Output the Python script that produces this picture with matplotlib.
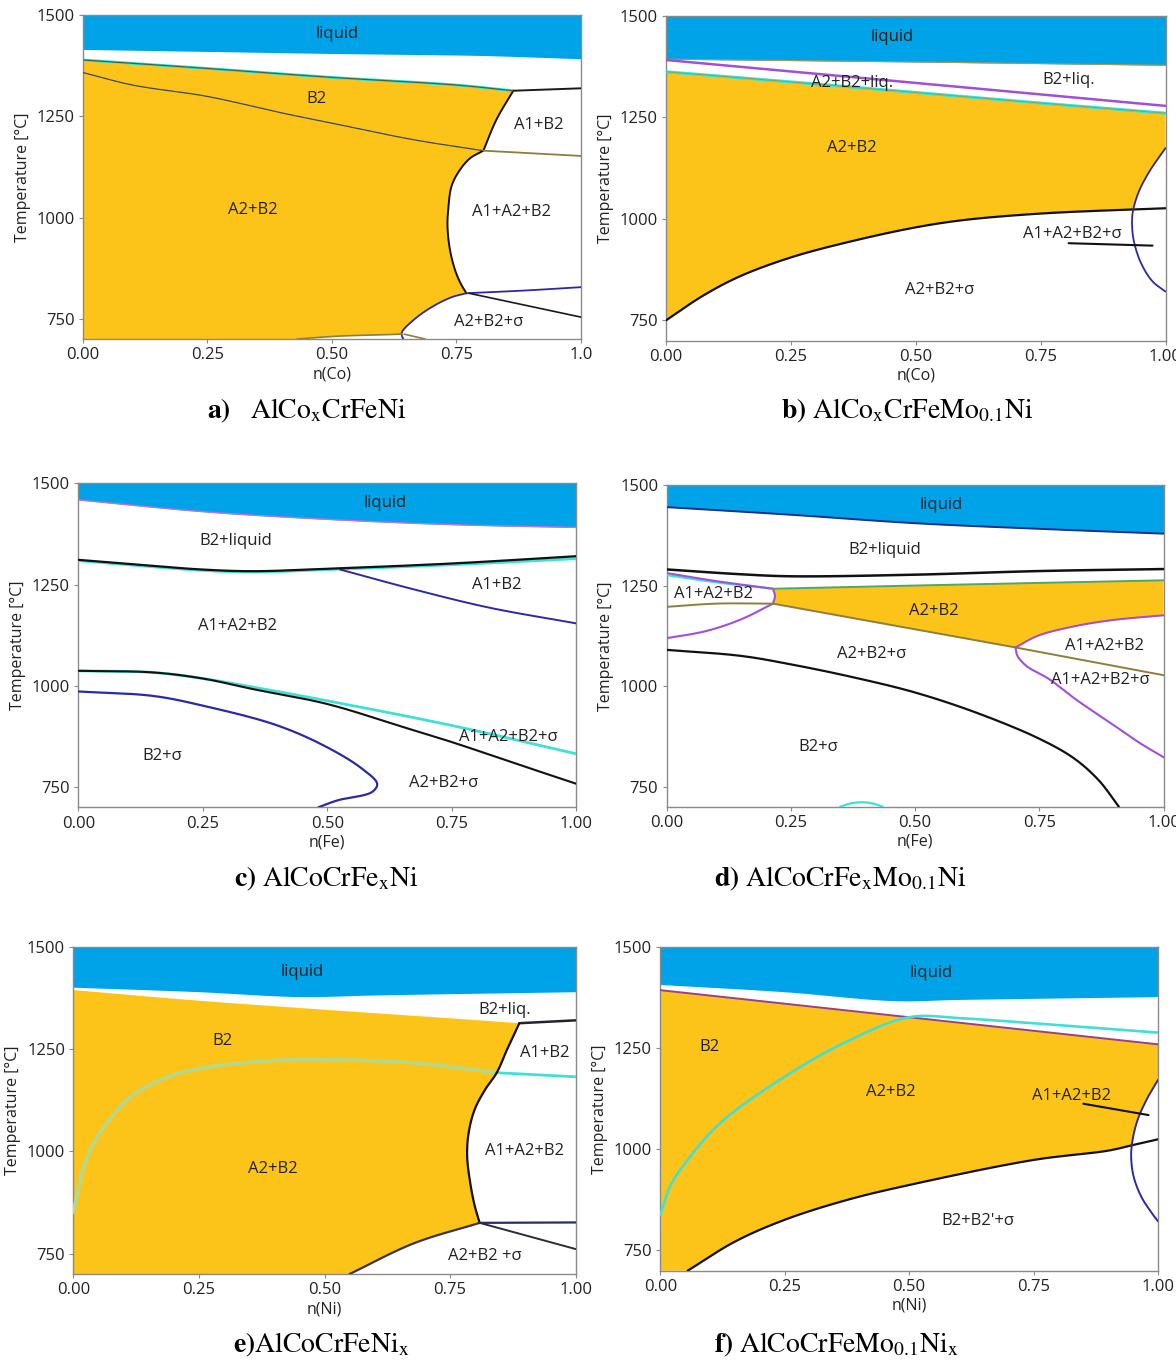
import numpy as np
import matplotlib
matplotlib.use("Agg")
import matplotlib.pyplot as plt

plt.rcParams["font.family"] = ["Open Sans", "DejaVu Sans"]
plt.rcParams["mathtext.fontset"] = "stix"

W, H = 1176, 1360

LIQ = "#00A3E8"
ORG = "#FCC419"
CYAN = "#3FE0D6"
PURPLE = "#A24FD8"
BLUE = "#2A2AA8"
OLIVE = "#8F7D3A"
GREEN = "#4FA866"
TXT = "#222222"

# ---------------- a) AlCoxCrFeNi ----------------
a_liq_x = [0.0, 0.25, 0.5, 0.63, 0.8, 1.0]
a_liq_T = [1415, 1410, 1405, 1403, 1400, 1392]
a_top_x = [0.0, 0.25, 0.5, 0.75, 0.864]
a_top_T = [1389, 1368, 1346, 1327, 1313]
a_topr_x = [0.864, 1.0]
a_topr_T = [1313, 1319]
a_rup_x = [0.864, 0.830, 0.804]
a_rup_T = [1313, 1241, 1165]
a_rlo_x = [0.804, 0.777, 0.755, 0.740, 0.734, 0.732, 0.737, 0.747, 0.758, 0.770]
a_rlo_T = [1165, 1146, 1114, 1077, 1027, 978, 920, 871, 838, 813]
a_sig_x = [0.770, 0.740, 0.702, 0.664, 0.640, 0.643]
a_sig_T = [813, 803, 780, 747, 715, 700]
a_bot_x = [0.430, 0.513, 0.634, 0.641]
a_bot_T = [700, 707, 712, 713]
a_bot2_x = [0.645, 0.687]
a_bot2_T = [712, 700]
a_inner_x = [0.0, 0.1, 0.25, 0.4, 0.5, 0.664, 0.804]
a_inner_T = [1358, 1327, 1299, 1258, 1233, 1192, 1165]
a_olr_x = [0.804, 1.0]
a_olr_T = [1165, 1152]
a_blr_x = [0.770, 0.891, 1.0]
a_blr_T = [813, 820, 828]
a_bkr_x = [0.775, 1.0]
a_bkr_T = [813, 754]
a_labels = [("liquid", 0.51, 1452), ("B2", 0.468, 1292), ("A1+B2", 0.915, 1229),
            ("A2+B2", 0.341, 1019), ("A1+A2+B2", 0.860, 1014), ("A2+B2+σ", 0.815, 741)]

# ---------------- b) AlCoxCrFeMo0.1Ni ----------------
b_liq_x = [0.0, 0.5, 1.0]
b_liq_T = [1393, 1386, 1378]
b_pur_x = [0.0, 1.0]
b_pur_T = [1391, 1278]
b_cyan_x = [0.0, 0.25, 0.5, 0.75, 1.0]
b_cyan_T = [1362, 1337, 1311, 1285, 1260]
b_blk_x = [0.0, 0.073, 0.147, 0.25, 0.372, 0.5, 0.596, 0.75, 0.933, 1.0]
b_blk_T = [750, 810, 858, 905, 945, 979, 997, 1013, 1023, 1026]
b_arc_x = [1.0, 0.970, 0.948, 0.936, 0.933, 0.936, 0.951, 0.974, 1.0]
b_arc_T = [1174, 1121, 1071, 1026, 998, 949, 891, 846, 821]
b_ptr_x = [0.806, 0.974]
b_ptr_T = [940, 934]
b_labels = [("liquid", 0.452, 1448), ("B2+liq.", 0.807, 1342), ("A2+B2+liq.", 0.372, 1334),
            ("A2+B2", 0.372, 1174), ("A1+A2+B2+σ", 0.813, 963), ("A2+B2+σ", 0.547, 824)]

# ---------------- c) AlCoCrFexNi ----------------
c_liq_x = [0.0, 0.25, 0.5, 0.75, 1.0]
c_liq_T = [1459, 1430, 1411, 1398, 1391]
c_bt_x = [0.0, 0.15, 0.25, 0.35, 0.5, 0.75, 1.0]
c_bt_T = [1311, 1296, 1287, 1283, 1289, 1302, 1320]
c_ct_x = [0.0, 0.25, 0.35, 0.5, 0.75, 1.0]
c_ct_T = [1309, 1285, 1281, 1287, 1299, 1314]
c_ba_x = [0.526, 0.674, 0.825, 1.0]
c_ba_T = [1287, 1238, 1193, 1154]
c_bm_x = [0.0, 0.15, 0.25, 0.35, 0.5, 0.65, 0.75, 0.9, 1.0]
c_bm_T = [1037, 1033, 1018, 992, 955, 899, 861, 799, 758]
c_cm_x = [0.0, 0.15, 0.25, 0.35, 0.5, 0.75, 1.0]
c_cm_T = [1037, 1033, 1018, 997, 963, 902, 832]
c_bs_x = [0.0, 0.15, 0.25, 0.4, 0.5, 0.57, 0.6, 0.59, 0.52, 0.482]
c_bs_T = [986, 975, 951, 902, 848, 795, 758, 738, 717, 700]
c_labels = [("liquid", 0.617, 1451), ("B2+liquid", 0.317, 1357), ("A1+B2", 0.841, 1248),
            ("A1+A2+B2", 0.319, 1148), ("A1+A2+B2+σ", 0.863, 873), ("B2+σ", 0.169, 826),
            ("A2+B2+σ", 0.734, 760)]

# ---------------- d) AlCoCrFexMo0.1Ni ----------------
d_liq_x = [0.0, 0.25, 0.5, 0.75, 1.0]
d_liq_T = [1445, 1426, 1405, 1391, 1379]
d_bt_x = [0.0, 0.15, 0.25, 0.5, 0.75, 1.0]
d_bt_T = [1290, 1278, 1273, 1277, 1286, 1291]
d_pa_x = [0.0, 0.1, 0.214]
d_pa_T = [1281, 1261, 1242]
d_ca_x = [0.0, 0.1, 0.214]
d_ca_T = [1276, 1258, 1242]
d_pv_x = [0.214, 0.218, 0.214]
d_pv_T = [1242, 1224, 1205]
d_pb_x = [0.214, 0.15, 0.08, 0.0]
d_pb_T = [1205, 1166, 1137, 1119]
d_oa_x = [0.0, 0.1, 0.214]
d_oa_T = [1197, 1205, 1205]
d_gt_x = [0.214, 0.5, 1.0]
d_gt_T = [1242, 1250, 1263]
d_ob_x = [0.214, 0.702, 1.0]
d_ob_T = [1205, 1096, 1027]
d_pu_x = [1.0, 0.897, 0.822, 0.747, 0.702]
d_pu_T = [1176, 1164, 1149, 1125, 1096]
d_pl_x = [0.702, 0.706, 0.724, 0.770, 0.822, 0.897, 0.950, 1.0]
d_pl_T = [1096, 1075, 1050, 1017, 968, 905, 860, 823]
d_bm_x = [0.0, 0.15, 0.25, 0.375, 0.5, 0.625, 0.75, 0.82, 0.87, 0.91]
d_bm_T = [1090, 1075, 1054, 1022, 984, 933, 869, 820, 765, 700]
d_cb_x = [0.349, 0.37, 0.393, 0.415, 0.435]
d_cb_T = [700, 708, 711, 708, 700]
d_labels = [("liquid", 0.552, 1450), ("B2+liquid", 0.439, 1339), ("A1+A2+B2", 0.094, 1228),
            ("A2+B2", 0.537, 1187), ("A2+B2+σ", 0.413, 1079), ("A1+A2+B2", 0.882, 1100),
            ("A1+A2+B2+σ", 0.873, 1016), ("B2+σ", 0.306, 848)]

# ---------------- e) AlCoCrFeNix ----------------
e_liq_x = [0.0, 0.25, 0.45, 0.6, 1.0]
e_liq_T = [1401, 1390, 1378, 1382, 1390]
e_top_x = [0.0, 0.25, 0.5, 0.75, 0.888]
e_top_T = [1394, 1368, 1346, 1325, 1313]
e_topr_x = [0.888, 1.0]
e_topr_T = [1313, 1320]
e_right_x = [0.888, 0.865, 0.843, 0.820, 0.799, 0.787, 0.784, 0.790, 0.799, 0.809]
e_right_T = [1313, 1253, 1192, 1151, 1102, 1045, 989, 924, 867, 825]
e_sig_x = [0.809, 0.678, 0.55]
e_sig_T = [825, 775, 700]
e_grn_x = [0.0, 0.02, 0.041, 0.08, 0.116, 0.18, 0.25, 0.4, 0.5, 0.678, 0.83, 0.843]
e_grn_T = [851, 960, 1021, 1090, 1135, 1178, 1202, 1222, 1224, 1216, 1194, 1192]
e_cyr_x = [0.843, 1.0]
e_cyr_T = [1192, 1182]
e_blr_x = [0.809, 1.0]
e_blr_T = [825, 826]
e_bkr_x = [0.809, 1.0]
e_bkr_T = [825, 761]
e_labels = [("liquid", 0.455, 1439), ("B2+liq.", 0.858, 1346), ("B2", 0.296, 1269),
            ("A1+B2", 0.939, 1239), ("A2+B2", 0.397, 956), ("A1+A2+B2", 0.899, 1001),
            ("A2+B2 +σ", 0.820, 745)]

# ---------------- f) AlCoCrFeMo0.1Nix ----------------
f_liq_x = [0.0, 0.25, 0.47, 0.6, 1.0]
f_liq_T = [1408, 1390, 1368, 1371, 1378]
f_pur_x = [0.0, 1.0]
f_pur_T = [1394, 1260]
f_cyan_x = [0.0, 0.02, 0.05, 0.12, 0.25, 0.375, 0.5, 0.61, 0.75, 1.0]
f_cyan_T = [838, 910, 966, 1065, 1180, 1267, 1327, 1324, 1312, 1289]
f_blk_x = [0.055, 0.15, 0.25, 0.375, 0.5, 0.75, 0.9, 0.95, 1.0]
f_blk_T = [700, 772, 826, 875, 912, 974, 997, 1011, 1025]
f_arc_x = [1.0, 0.977, 0.959, 0.949, 0.946, 0.951, 0.966, 0.985, 1.0]
f_arc_T = [1172, 1123, 1073, 1024, 983, 933, 884, 847, 822]
f_ptr_x = [0.85, 0.981]
f_ptr_T = [1113, 1085]
f_labels = [("liquid", 0.544, 1437), ("B2", 0.098, 1253), ("A2+B2", 0.463, 1141),
            ("A1+A2+B2", 0.826, 1133), ("B2+B2'+σ", 0.638, 822)]

x_ticks = [0.0, 0.25, 0.5, 0.75, 1.0]
y_ticks = [750, 1000, 1250, 1500]

fig = plt.figure(figsize=(W / 100, H / 100), dpi=100)

# axes are ~500 px wide and ~325 px tall for 800 degrees
SX, ST = 500.0, 325.0 / 800.0


def S(x, T, n=24):
    """Centripetal Catmull-Rom curve through the given boundary points (for drawing)."""
    P = np.column_stack([np.asarray(x, float) * SX, np.asarray(T, float) * ST])
    if len(P) < 3:
        return list(P[:, 0] / SX), list(P[:, 1] / ST)
    pts = np.vstack([2 * P[0] - P[1], P, 2 * P[-1] - P[-2]])
    out = []
    for i in range(1, len(pts) - 2):
        p0, p1, p2, p3 = pts[i - 1], pts[i], pts[i + 1], pts[i + 2]
        t0 = 0.0
        t1 = t0 + max(np.linalg.norm(p1 - p0), 1e-6) ** 0.5
        t2 = t1 + max(np.linalg.norm(p2 - p1), 1e-6) ** 0.5
        t3 = t2 + max(np.linalg.norm(p3 - p2), 1e-6) ** 0.5
        t = np.linspace(t1, t2, n, endpoint=False)[:, None]
        A1 = (t1 - t) / (t1 - t0) * p0 + (t - t0) / (t1 - t0) * p1
        A2 = (t2 - t) / (t2 - t1) * p1 + (t - t1) / (t2 - t1) * p2
        A3 = (t3 - t) / (t3 - t2) * p2 + (t - t2) / (t3 - t2) * p3
        B1 = (t2 - t) / (t2 - t0) * A1 + (t - t0) / (t2 - t0) * A2
        B2 = (t3 - t) / (t3 - t1) * A2 + (t - t1) / (t3 - t1) * A3
        C = (t2 - t) / (t2 - t1) * B1 + (t - t1) / (t2 - t1) * B2
        out.append(C)
    out.append(P[-1:])
    Q = np.vstack(out)
    return list(Q[:, 0] / SX), list(Q[:, 1] / ST)


def make_axes(l, r, t, b):
    return fig.add_axes([l / W, 1 - b / H, (r - l) / W, (b - t) / H])


def style(ax, xlabel, last_tick="1.00"):
    ax.set_xlim(0, 1)
    ax.set_ylim(700, 1500)
    ax.set_xticks(x_ticks)
    ax.set_xticklabels(["0.00", "0.25", "0.50", "0.75", last_tick])
    ax.set_yticks(y_ticks)
    for s in ax.spines.values():
        s.set_color("#8a8a8a")
        s.set_linewidth(1.0)
    ax.tick_params(length=3, width=0.8, color="#8a8a8a", labelsize=12,
                   labelcolor=TXT, pad=3)
    ax.set_ylabel("Temperature [°C]", fontsize=11.5, color=TXT, labelpad=4)
    ax.set_xlabel(xlabel, fontsize=11.5, color=TXT, labelpad=2)


def line(ax, x, T, color, lw=1.3, z=3):
    xs, Ts = S(x, T)
    ax.plot(xs, Ts, color=color, lw=lw, zorder=z, solid_capstyle="round")


def liquid(ax, x, T):
    xs, Ts = S(x, T)
    ax.fill_between(xs, Ts, 1500, color=LIQ, lw=0, zorder=1)


def labels(ax, items, size=12):
    for s, x, T in items:
        ax.text(x, T, s, ha="center", va="center", fontsize=size, color=TXT, zorder=6)


def cut_arc(arc_x, arc_T, bx, bT):
    """Upper part of an arc, down to where it meets the lower boundary curve."""
    axs, ats = S(arc_x, arc_T)
    bxs, bts = S(bx, bT)
    keep_x, keep_T = [], []
    for xv, tv in zip(axs, ats):
        if tv >= np.interp(xv, bxs, bts):
            keep_x.append(xv)
            keep_T.append(tv)
        else:
            break
    bxs = np.array(bxs)
    bts = np.array(bts)
    m = bxs <= keep_x[-1]
    return keep_x + list(bxs[m][::-1]), keep_T + list(bts[m][::-1])


def chain(*segs):
    xs, Ts = [], []
    for x, T in segs:
        xs += list(x)
        Ts += list(T)
    return xs, Ts


# ---- a ----
ax = make_axes(82.8, 581, 15, 339)
liquid(ax, a_liq_x, a_liq_T)
px, pT = chain(([0.0], [700]), S(a_top_x, a_top_T), S(a_rup_x, a_rup_T),
               S(a_rlo_x, a_rlo_T), S(a_sig_x[:-1], a_sig_T[:-1]),
               S(a_bot_x[::-1], a_bot_T[::-1]), ([0.0], [700]))
ax.fill(px, pT, color=ORG, lw=0, zorder=1)
line(ax, a_top_x, a_top_T, CYAN, lw=2.0)
line(ax, a_top_x, a_top_T, "#2f6b4f", lw=0.9, z=4)
line(ax, a_topr_x, a_topr_T, "#1a1a1a", lw=1.4)
line(ax, a_rup_x, a_rup_T, "#111111", lw=1.4)
line(ax, a_rlo_x, a_rlo_T, "#111111", lw=1.4)
line(ax, a_inner_x, a_inner_T, "#3a4858", lw=0.9)
line(ax, a_olr_x, a_olr_T, OLIVE, lw=1.3)
line(ax, a_sig_x, a_sig_T, BLUE, lw=1.3)
line(ax, a_bot_x, a_bot_T, OLIVE, lw=1.2)
line(ax, a_bot2_x, a_bot2_T, OLIVE, lw=1.2)
line(ax, a_blr_x, a_blr_T, BLUE, lw=1.3)
line(ax, a_bkr_x, a_bkr_T, "#1a1a1a", lw=1.2)
labels(ax, a_labels)
style(ax, "n(Co)", last_tick="1.0")

# ---- b ----
ax = make_axes(666, 1165.5, 15.7, 340.7)
liquid(ax, b_liq_x, b_liq_T)
px, pT = chain(S(b_cyan_x, b_cyan_T), cut_arc(b_arc_x, b_arc_T, b_blk_x, b_blk_T))
ax.fill(px, pT, color=ORG, lw=0, zorder=1)
line(ax, b_liq_x, b_liq_T, "#a89a55", lw=0.8)
line(ax, b_pur_x, b_pur_T, PURPLE, lw=1.8)
line(ax, b_cyan_x, b_cyan_T, CYAN, lw=2.2)
line(ax, b_cyan_x, b_cyan_T, "#6fae6a", lw=0.7, z=4)
line(ax, b_blk_x, b_blk_T, "#111111", lw=1.6)
line(ax, b_arc_x, b_arc_T, BLUE, lw=1.3)
line(ax, b_ptr_x, b_ptr_T, "#111111", lw=1.5)
labels(ax, b_labels)
style(ax, "n(Co)")

# ---- c ----
ax = make_axes(78.3, 576.4, 483.3, 807.3)
liquid(ax, c_liq_x, c_liq_T)
line(ax, c_liq_x, c_liq_T, "#c070e0", lw=1.0)
line(ax, c_ct_x, c_ct_T, CYAN, lw=2.0)
line(ax, c_bt_x, c_bt_T, "#111111", lw=1.6, z=4)
line(ax, c_ba_x, c_ba_T, BLUE, lw=1.4)
line(ax, c_cm_x, c_cm_T, CYAN, lw=2.0)
line(ax, c_bm_x, c_bm_T, "#111111", lw=1.5, z=4)
line(ax, c_bs_x, c_bs_T, BLUE, lw=1.6)
labels(ax, c_labels)
style(ax, "n(Fe)")

# ---- d ----
ax = make_axes(666.6, 1163.6, 485, 806.7)
liquid(ax, d_liq_x, d_liq_T)
px, pT = chain(S(d_gt_x, d_gt_T), S(d_pu_x, d_pu_T),
               S(d_ob_x[:2][::-1], d_ob_T[:2][::-1]), S(d_pv_x[::-1], d_pv_T[::-1]))
ax.fill(px, pT, color=ORG, lw=0, zorder=1)
line(ax, d_liq_x, d_liq_T, "#1f2f8a", lw=1.4)
line(ax, d_bt_x, d_bt_T, "#111111", lw=1.8)
line(ax, d_ca_x, d_ca_T, CYAN, lw=1.6)
line(ax, d_pa_x, d_pa_T, PURPLE, lw=1.5)
line(ax, d_pv_x, d_pv_T, PURPLE, lw=1.5)
line(ax, d_pb_x, d_pb_T, PURPLE, lw=1.5)
line(ax, d_oa_x, d_oa_T, OLIVE, lw=1.4)
line(ax, d_gt_x, d_gt_T, GREEN, lw=1.4)
line(ax, d_ob_x[:2], d_ob_T[:2], OLIVE, lw=1.4)
line(ax, d_ob_x[1:], d_ob_T[1:], OLIVE, lw=1.4)
line(ax, d_pu_x, d_pu_T, PURPLE, lw=1.5)
line(ax, d_pl_x, d_pl_T, PURPLE, lw=1.5)
line(ax, d_bm_x, d_bm_T, "#111111", lw=1.6)
line(ax, d_cb_x, d_cb_T, CYAN, lw=1.6)
labels(ax, d_labels)
style(ax, "n(Fe)")

# ---- e ----
ax = make_axes(73.4, 575.6, 946.7, 1274)
liquid(ax, e_liq_x, e_liq_T)
px, pT = chain(([0.0], [700]), S(e_top_x, e_top_T), S(e_right_x, e_right_T),
               S(e_sig_x, e_sig_T), ([0.0], [700]))
ax.fill(px, pT, color=ORG, lw=0, zorder=1)
line(ax, e_grn_x, e_grn_T, "#b2d98e", lw=2.6)
line(ax, e_cyr_x, e_cyr_T, CYAN, lw=2.0)
line(ax, e_topr_x, e_topr_T, "#222233", lw=1.8)
line(ax, e_right_x, e_right_T, "#111111", lw=1.6)
line(ax, e_sig_x, e_sig_T, "#3a3450", lw=1.6)
line(ax, e_blr_x, e_blr_T, "#2a2a70", lw=1.6)
line(ax, e_bkr_x, e_bkr_T, "#2a2a3a", lw=1.4)
labels(ax, e_labels)
style(ax, "n(Ni)")

# ---- f ----
ax = make_axes(660.3, 1158, 947.3, 1270.7)
liquid(ax, f_liq_x, f_liq_T)
px, pT = chain(([0.0], [700]), S(f_pur_x, f_pur_T),
               cut_arc(f_arc_x, f_arc_T, f_blk_x, f_blk_T), ([0.0], [700]))
ax.fill(px, pT, color=ORG, lw=0, zorder=1)
line(ax, f_pur_x, f_pur_T, "#9a3f8a", lw=1.4)
line(ax, f_cyan_x, f_cyan_T, CYAN, lw=1.9)
line(ax, f_blk_x, f_blk_T, "#111111", lw=1.6)
line(ax, f_arc_x, f_arc_T, BLUE, lw=1.4)
line(ax, f_ptr_x, f_ptr_T, "#111111", lw=1.5)
labels(ax, f_labels)
style(ax, "n(Ni)")

# ---- captions ----
caps = [
    (307, 411, r"$\mathbf{a)}\quad\mathrm{AlCo_{x}CrFeNi}$"),
    (907, 411, r"$\mathbf{b)}\ \mathrm{AlCo_{x}CrFeMo_{0.1}Ni}$"),
    (326, 879, r"$\mathbf{c)}\ \mathrm{AlCoCrFe_{x}Ni}$"),
    (840, 879, r"$\mathbf{d)}\ \mathrm{AlCoCrFe_{x}Mo_{0.1}Ni}$"),
    (321, 1345, r"$\mathbf{e)}\mathrm{AlCoCrFeNi_{x}}$"),
    (836, 1345, r"$\mathbf{f)}\ \mathrm{AlCoCrFeMo_{0.1}Ni_{x}}$"),
]
for cx, cy, s in caps:
    fig.text(cx / W, 1 - cy / H, s, ha="center", va="center", fontsize=20, color="black")

fig.savefig("out.png", dpi=100, facecolor="white")
